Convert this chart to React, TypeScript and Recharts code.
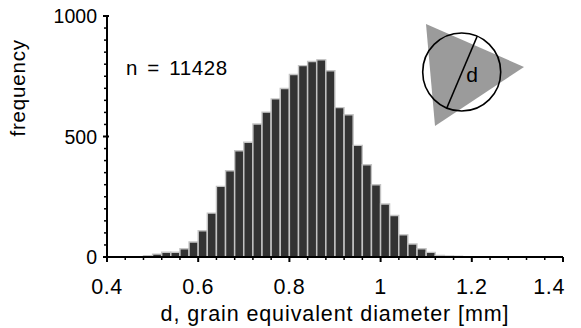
import { BarChart, Bar, XAxis, YAxis } from 'recharts';

// grain size histogram, bin width 0.02 mm
const binCenters = [
  0.49, 0.51, 0.53, 0.55, 0.57, 0.59, 0.61, 0.63, 0.65, 0.67, 0.69, 0.71,
  0.73, 0.75, 0.77, 0.79, 0.81, 0.83, 0.85, 0.87, 0.89, 0.91, 0.93, 0.95,
  0.97, 0.99, 1.01, 1.03, 1.05, 1.07, 1.09, 1.11, 1.13, 1.15, 1.17,
];
const counts = [
  5, 12, 20, 20, 34, 62, 109, 182, 293, 358, 441, 476,
  552, 601, 656, 699, 757, 794, 811, 818, 773, 620, 590, 463,
  383, 300, 220, 172, 92, 54, 34, 19, 6, 4, 3,
];

const xTicks = [
  0.4, 0.44, 0.48, 0.52, 0.56, 0.6, 0.64, 0.68, 0.72, 0.76, 0.8, 0.84, 0.88,
  0.92, 0.96, 1, 1.04, 1.08, 1.12, 1.16, 1.2, 1.24, 1.28, 1.32, 1.36, 1.4,
];
const xLabels = [0.4, 0.6, 0.8, 1, 1.2, 1.4];
const yTicks = [
  0, 50, 100, 150, 200, 250, 300, 350, 400, 450, 500, 550, 600, 650, 700,
  750, 800, 850, 900, 950, 1000,
];
const yLabels = [0, 500, 1000];
const sampleSize = 11428;

const FONT = '"Liberation Sans", Arial, sans-serif';

const data = binCenters.map((x, i) => ({ x, count: counts[i] }));

const isIn = (list: number[], v: number) => list.some((t) => Math.abs(t - v) < 1e-6);

function XTick({ x, y, payload }: any) {
  const v = payload.value as number;
  const major = isIn(xLabels, v);
  const last = Math.abs(v - 1.4) < 1e-6;
  return (
    <g>
      <line x1={x} x2={x} y1={y} y2={y + (major ? 5 : 3)} stroke="#000" strokeWidth={major ? 2 : 1.5} />
      {major && (
        <text
          x={last ? x + 2 : x}
          y={y + 37}
          textAnchor={last ? 'end' : 'middle'}
          fontFamily={FONT}
          fontSize={21.5}
          fill="#000"
          letterSpacing={0.6}
        >
          {String(Math.round(v * 10) / 10)}
        </text>
      )}
    </g>
  );
}

function YTick({ x, y, payload }: any) {
  const v = payload.value as number;
  const major = isIn(yLabels, v);
  return (
    <g>
      <line x1={x - (major ? 4 : 3)} x2={major ? x + 2 : x} y1={y} y2={y} stroke="#000" strokeWidth={major ? 2 : 1.5} />
      {major && (
        <text x={x - 10} y={y + 7} textAnchor="end" fontFamily={FONT} fontSize={19.5} fill="#000">
          {v}
        </text>
      )}
    </g>
  );
}

export default function App() {
  // pinned to the page corner so the edge texts are not clipped by the body margin
  return (
    <div style={{ position: 'absolute', left: 0, top: 0, width: 581, height: 328 }}>
      <BarChart width={581} height={328} data={data} margin={{ top: 16, right: 18, bottom: 0, left: 8 }}>
        <XAxis
          type="number"
          dataKey="x"
          domain={[0.4, 1.4]}
          ticks={xTicks}
          interval={0}
          tickSize={0}
          tickMargin={0}
          tickLine={false}
          tick={(p: any) => <XTick {...p} />}
          axisLine={{ stroke: '#000', strokeWidth: 2 }}
          height={71}
          allowDataOverflow
          label={{
            value: 'd, grain equivalent diameter [mm]',
            position: 'insideBottom',
            offset: 7,
            fontFamily: FONT,
            fontSize: 21.5,
            fill: '#000',
            letterSpacing: 0.9,
          }}
        />
        <YAxis
          type="number"
          domain={[0, 1000]}
          ticks={yTicks}
          interval={0}
          tickSize={0}
          tickMargin={0}
          tickLine={false}
          tick={(p: any) => <YTick {...p} />}
          axisLine={{ stroke: '#000', strokeWidth: 2 }}
          width={99}
          label={{
            value: 'frequency',
            angle: -90,
            position: 'insideLeft',
            offset: 10,
            fontFamily: FONT,
            fontSize: 20.5,
            fill: '#000',
            letterSpacing: 0.8,
          }}
        />
        <Bar
          dataKey="count"
          fill="#333333"
          stroke="#c4c4c4"
          strokeWidth={1.4}
          barSize={9}
          isAnimationActive={false}
        />
      </BarChart>

      {/* annotation + grain sketch */}
      <svg width={581} height={328} style={{ position: 'absolute', left: 0, top: 0, pointerEvents: 'none' }}>
        <text x={126} y={75} fontFamily={FONT} fontSize={20.5} fill="#000" letterSpacing={0.6} wordSpacing={3}>
          {`n = ${sampleSize}`}
        </text>
        <polygon points="426,24 435,126 524,67" fill="#9b9b9b" />
        <circle cx={461.7} cy={72} r={39} fill="none" stroke="#000" strokeWidth={1.6} />
        <line x1={477.3} y1={36} x2={446.7} y2={108.3} stroke="#000" strokeWidth={1.6} />
        <text x={472} y={82} textAnchor="middle" fontFamily={FONT} fontSize={21} fill="#000">
          d
        </text>
      </svg>
    </div>
  );
}
